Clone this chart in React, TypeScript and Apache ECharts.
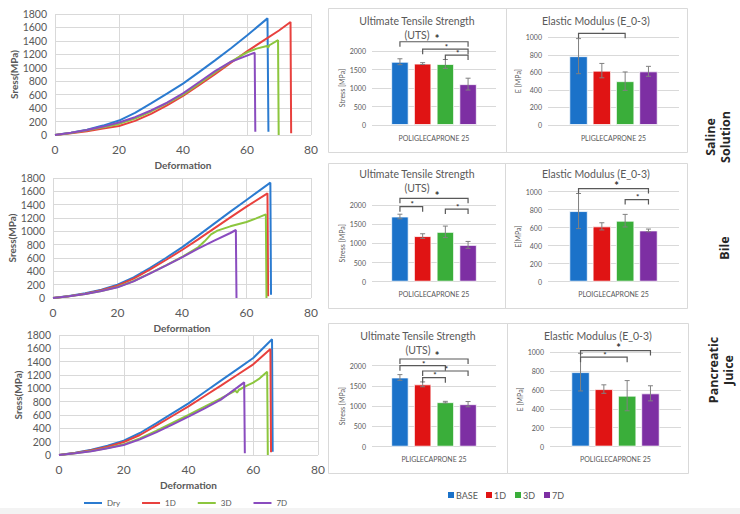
import React, { useEffect, useRef } from 'react';
import * as echarts from 'echarts';

// ---------- line charts (stress vs deformation) ----------
const lineNames = ['Dry', '1D', '3D', '7D'];
const lineColors = ['#2b7bd0', '#e8413e', '#8cc63e', '#8a4cbf'];
const xTicks = [0, 20, 40, 60, 80];
const yTicksLine = [0, 200, 400, 600, 800, 1000, 1200, 1400, 1600, 1800];

const salineDry = [[0,0],[5,35],[10,80],[15,140],[20,215],[25,330],[30,470],[35,615],[40,765],[45,935],[50,1110],[55,1290],[60,1480],[66.4,1735],[66.7,50]];
const saline1D = [[0,0],[5,25],[10,55],[15,95],[20,135],[25,210],[30,315],[35,440],[40,580],[45,740],[50,905],[55,1075],[60,1245],[65,1400],[70,1555],[73.6,1680],[73.8,25]];
const saline3D = [[0,0],[5,30],[10,70],[15,115],[20,165],[25,245],[30,350],[35,470],[40,600],[45,765],[50,930],[55,1090],[60,1230],[63,1285],[66.2,1325],[66.6,1300],[67,1335],[69.7,1410],[69.9,0]];
const saline7D = [[0,0],[5,35],[10,75],[15,125],[20,185],[25,265],[30,365],[35,480],[40,620],[45,785],[50,950],[55,1090],[60,1180],[62.4,1225],[62.6,50]];

const bileDry = [[0,0],[5,30],[10,70],[15,125],[20,200],[25,310],[30,450],[35,600],[40,760],[45,935],[50,1115],[55,1295],[60,1470],[67.4,1730],[67.6,50]];
const bile1D = [[0,0],[5,28],[10,65],[15,115],[20,185],[25,290],[30,425],[35,570],[40,720],[45,880],[50,1045],[55,1210],[60,1370],[66.5,1570],[66.7,25]];
const bile3D = [[0,0],[5,25],[10,60],[15,105],[20,165],[25,255],[30,370],[35,490],[40,615],[45,760],[47,850],[49,955],[51,1010],[55,1075],[60,1140],[63,1195],[66,1255],[66.2,0]];
const bile7D = [[0,0],[5,25],[10,60],[15,105],[20,160],[25,250],[30,365],[35,485],[40,610],[45,740],[50,860],[55,975],[56.7,1020],[56.9,0]];

const pancDry = [[0,0],[5,35],[10,80],[15,140],[20,215],[25,330],[30,475],[35,625],[40,775],[45,945],[50,1115],[55,1285],[60,1455],[65.8,1735],[66,50]];
const panc1D = [[0,0],[5,30],[10,70],[15,125],[20,195],[25,300],[30,440],[35,585],[40,730],[45,885],[50,1040],[55,1200],[60,1360],[65.3,1590],[65.5,40]];
const panc3D = [[0,0],[5,25],[10,60],[15,105],[20,160],[25,250],[30,360],[35,480],[40,600],[45,725],[50,850],[54.5,965],[55,935],[55.5,975],[58,1040],[60,1085],[62,1150],[64.3,1250],[64.5,0]];
const panc7D = [[0,0],[5,25],[10,55],[15,100],[20,150],[25,235],[30,340],[35,455],[40,575],[45,700],[50,830],[55,1010],[57.2,1090],[57.4,25]];

// ---------- bar charts ----------
const groups = ['BASE', '1D', '3D', '7D'];
const barColors = ['#1b72c9', '#e01414', '#3aae3a', '#7d2fa3'];

const utsSaline = [1710, 1660, 1650, 1105];
const utsSalineErr = [80, 25, 120, 160];
const utsSalineSig = [[0, 3, 2250, 1], [1, 3, 2050, 0], [2, 3, 1890, 0]];
const eSaline = [785, 620, 500, 612];
const eSalineErr = [200, 82, 105, 57];
const eSalineSig = [[0, 2, 1045, 0]];

const utsBile = [1700, 1190, 1300, 960];
const utsBileErr = [60, 60, 150, 90];
const utsBileSig = [[0, 3, 2175, 1], [0, 1, 1956, 0], [2, 3, 1895, 0]];
const eBile = [785, 615, 678, 570];
const eBileErr = [195, 40, 70, 15];
const eBileSig = [[0, 3, 1035, 1], [2, 3, 912, 0]];

const utsPanc = [1710, 1540, 1100, 1050];
const utsPancErr = [70, 60, 20, 65];
const utsPancSig = [[0, 3, 2165, 1], [0, 2, 2000, 0], [1, 3, 1869, 0], [1, 2, 1704, 0]];
const ePanc = [790, 610, 540, 565];
const ePancErr = [200, 45, 160, 80];
const ePancSig = [[0, 3, 1018, 1], [0, 2, 948, 0]];

const FONT = 'Lato';
const GRAY = '#595959';
const GRID_LINE = '#d9d9d9';
const plain = (v: number) => String(v);

const errRender = (params: any, api: any) => {
  const x = api.value(0);
  const lo = api.coord([x, api.value(1)]);
  const hi = api.coord([x, api.value(2)]);
  const c = 2.5;
  const style = { stroke: '#808080', lineWidth: 1 };
  return {
    type: 'group',
    children: [
      { type: 'line', shape: { x1: lo[0], y1: lo[1], x2: hi[0], y2: hi[1] }, style },
      { type: 'line', shape: { x1: lo[0] - c, y1: lo[1], x2: lo[0] + c, y2: lo[1] }, style },
      { type: 'line', shape: { x1: hi[0] - c, y1: hi[1], x2: hi[0] + c, y2: hi[1] }, style },
    ],
  };
};

const sigRender = (params: any, api: any) => {
  const a = api.coord([api.value(0), api.value(2)]);
  const b = api.coord([api.value(1), api.value(2)]);
  const big = api.value(3) === 1;
  const t = 5;
  const fs = big ? 11 : 8;
  return {
    type: 'group',
    children: [
      {
        type: 'polyline',
        shape: { points: [[a[0], a[1] + t], [a[0], a[1]], [b[0], b[1]], [b[0], b[1] + t]] },
        style: { stroke: '#595959', lineWidth: 1.2, fill: 'none' },
      },
      {
        type: 'text',
        x: (a[0] + b[0]) / 2 + (big ? 3 : 1),
        y: a[1] - (big ? 3.2 : 2.2),
        style: {
          text: '*', align: 'center', verticalAlign: 'middle', fontSize: fs, fontWeight: 'bold',
          fill: '#333333', fontFamily: FONT,
        },
      },
    ],
  };
};

export default function App() {
  const ref = useRef<HTMLDivElement>(null);
  useEffect(() => {
    if (!ref.current) return;
    const chart = echarts.init(ref.current, undefined, { renderer: 'svg' });

    const lineSets = [
      [salineDry, saline1D, saline3D, saline7D],
      [bileDry, bile1D, bile3D, bile7D],
      [pancDry, panc1D, panc3D, panc7D],
    ];
    const lineGrids = [
      { left: 55, top: 14, width: 256, height: 121 },
      { left: 53, top: 178, width: 258, height: 120 },
      { left: 59, top: 335, width: 259, height: 120 },
    ];
    const barPanels = [
      { vals: utsSaline, err: utsSalineErr, sig: utsSalineSig, grid: { left: 372, top: 51, width: 124, height: 74 }, kind: 'uts', name: 'POLIGLECAPRONE 25', yName: 'Stress [MPa]' },
      { vals: eSaline, err: eSalineErr, sig: eSalineSig, grid: { left: 548, top: 37.3, width: 131, height: 87.7 }, kind: 'e', name: 'PLIGLECAPRONE 25', yName: 'E [MPa]' },
      { vals: utsBile, err: utsBileErr, sig: utsBileSig, grid: { left: 372, top: 205, width: 124, height: 76.7 }, kind: 'uts', name: 'POLIGLECAPRONE 25', yName: 'Stress [MPa]' },
      { vals: eBile, err: eBileErr, sig: eBileSig, grid: { left: 548, top: 191.7, width: 131, height: 90 }, kind: 'e', name: 'PLOIGLECAPRONE 25', yName: 'E[MPa]' },
      { vals: utsPanc, err: utsPancErr, sig: utsPancSig, grid: { left: 372, top: 365.7, width: 124, height: 81 }, kind: 'uts', name: 'PLIGLECAPRONE 25', yName: 'Stress [MPa]' },
      { vals: ePanc, err: ePancErr, sig: ePancSig, grid: { left: 550, top: 352.3, width: 131, height: 94.3 }, kind: 'e', name: 'POLIGLECAPRONE 25', yName: 'E [MPa]' },
    ];

    const grid: any[] = [];
    const xAxis: any[] = [];
    const yAxis: any[] = [];
    const series: any[] = [];

    lineGrids.forEach((g, k) => {
      grid.push({ ...g, containLabel: false });
      xAxis.push({
        type: 'value', gridIndex: k, min: xTicks[0], max: xTicks[xTicks.length - 1], interval: 20,
        axisLine: { show: false }, axisTick: { show: false },
        axisLabel: { fontSize: 12, color: GRAY, margin: 8, fontFamily: FONT, formatter: plain },
        splitLine: { show: true, lineStyle: { color: GRID_LINE, width: 1 } },
        name: 'Deformation', nameLocation: 'middle', nameGap: 25,
        nameTextStyle: { fontSize: 10, color: GRAY, fontWeight: 'bold', fontFamily: FONT },
      });
      yAxis.push({
        type: 'value', gridIndex: k, min: yTicksLine[0], max: yTicksLine[yTicksLine.length - 1], interval: 200,
        axisLine: { show: false }, axisTick: { show: false },
        axisLabel: { fontSize: 10.5, color: GRAY, margin: 8, fontFamily: FONT, formatter: plain },
        splitLine: { show: true, lineStyle: { color: GRID_LINE, width: 1 } },
        name: 'Sress(MPa)', nameLocation: 'middle', nameGap: 34,
        nameTextStyle: { fontSize: 10, color: GRAY, fontWeight: 'bold', fontFamily: FONT },
      });
      lineSets[k].forEach((d, j) => {
        series.push({
          type: 'line', name: lineNames[j], xAxisIndex: k, yAxisIndex: k, data: d,
          showSymbol: false, symbol: 'none', smooth: false,
          lineStyle: { color: lineColors[j], width: 2 }, itemStyle: { color: lineColors[j] },
          emphasis: { disabled: true }, z: 2,
        });
      });
    });

    barPanels.forEach((p, i) => {
      const k = 3 + i;
      const isE = p.kind === 'e';
      grid.push({ ...p.grid, containLabel: false });
      xAxis.push({
        type: 'value', gridIndex: k, min: isE ? -1.31 : -1.23, max: isE ? 4.31 : 4.23,
        axisLine: { show: false }, axisTick: { show: false }, axisLabel: { show: false },
        splitLine: { show: false },
        name: p.name, nameLocation: 'middle', nameGap: 9,
        nameTextStyle: { fontSize: 7, color: GRAY, fontFamily: FONT },
      });
      yAxis.push({
        type: 'value', gridIndex: k, min: 0, max: isE ? 1000 : 2000, interval: isE ? 200 : 500,
        axisLine: { show: false }, axisTick: { show: false },
        axisLabel: { fontSize: 7, color: GRAY, margin: 6, fontFamily: FONT, formatter: plain },
        splitLine: { show: true, lineStyle: { color: GRID_LINE, width: 1 } },
        name: p.yName, nameLocation: 'middle', nameGap: isE ? 22 : 24,
        nameTextStyle: { fontSize: 7, color: GRAY, fontFamily: FONT },
      });
      series.push({
        type: 'bar', name: 'bars' + i, xAxisIndex: k, yAxisIndex: k,
        barWidth: isE ? 18.5 : 17.5,
        data: p.vals.map((v, j) => ({ value: [j, v], itemStyle: { color: barColors[j] } })),
        itemStyle: { borderColor: 'rgba(255,255,255,0.75)', borderWidth: 1 },
        emphasis: { disabled: true }, z: 2,
      });
      series.push({
        type: 'custom', name: 'err' + i, xAxisIndex: k, yAxisIndex: k,
        renderItem: errRender, clip: false, z: 4,
        encode: { x: 0, y: [1, 2] },
        data: p.vals.map((v, j) => [j, v - p.err[j], v + p.err[j]]),
      });
      series.push({
        type: 'custom', name: 'sig' + i, xAxisIndex: k, yAxisIndex: k,
        renderItem: sigRender, clip: false, z: 5,
        encode: { x: [0, 1], y: 2 },
        data: p.sig,
      });
    });

    const panelRect = (x: number, y: number, w: number, h: number) => ({
      type: 'rect', shape: { x: x + 0.5, y: y + 0.5, width: w, height: h },
      style: { fill: 'none', stroke: '#d9d9d9', lineWidth: 1 }, silent: true, z: 0,
    });
    const titleText = (x: number, y: number, text: string) => ({
      type: 'text', x, y,
      style: { text, align: 'center', verticalAlign: 'middle', fontSize: 10.5, fill: GRAY, fontFamily: FONT, lineHeight: 14 },
      silent: true,
    });
    const sideText = (x: number, y: number, text: string) => ({
      type: 'text', x, y, rotation: Math.PI / 2,
      style: { text, align: 'center', verticalAlign: 'middle', fontSize: 12.5, fontWeight: 'bold', fill: '#262626', fontFamily: 'Open Sans', lineHeight: 15 },
      silent: true,
    });

    const legendItems: any[] = [];
    const legendX = [448, 486, 515, 544];
    groups.forEach((g, j) => {
      legendItems.push({ type: 'rect', shape: { x: legendX[j], y: 492, width: 6, height: 6 }, style: { fill: barColors[j] }, silent: true });
      legendItems.push({ type: 'text', x: legendX[j] + 8, y: 495.5, style: { text: g, fontSize: 9, fill: GRAY, fontFamily: FONT, verticalAlign: 'middle' }, silent: true });
    });

    chart.setOption({
      animation: false,
      backgroundColor: '#ffffff',
      textStyle: { fontFamily: FONT },
      grid, xAxis, yAxis, series,
      legend: {
        data: lineNames, left: 84, top: 499, padding: 0, itemWidth: 18, itemHeight: 2, itemGap: 22,
        icon: 'rect', textStyle: { fontSize: 8, color: GRAY, fontFamily: FONT }, selectedMode: false,
      },
      graphic: [
        { type: 'rect', shape: { x: 0, y: 508, width: 740, height: 6 }, style: { fill: '#f3f3f3' }, silent: true, z: -1 },
        panelRect(328, 8, 178, 144),
        panelRect(506, 8, 181, 144),
        panelRect(328, 163, 177, 145),
        panelRect(505, 163, 182, 145),
        panelRect(328, 323, 179, 150),
        panelRect(507, 323, 181, 150),
        titleText(417, 28, 'Ultimate Tensile Strength\n(UTS)'),
        titleText(596, 21, 'Elastic Modulus (E_0-3)'),
        titleText(417, 181, 'Ultimate Tensile Strength\n(UTS)'),
        titleText(596, 174, 'Elastic Modulus (E_0-3)'),
        titleText(418, 343, 'Ultimate Tensile Strength\n(UTS)'),
        titleText(598, 336, 'Elastic Modulus (E_0-3)'),
        sideText(718, 137, 'Saline\nSolution'),
        sideText(724, 248, 'Bile'),
        sideText(721, 370, 'Pancreatic\nJuice'),
        ...legendItems,
      ],
    });
    return () => chart.dispose();
  }, []);
  return <div ref={ref} style={{ position: 'absolute', left: 0, top: 0, width: 740, height: 514 }} />;
}
